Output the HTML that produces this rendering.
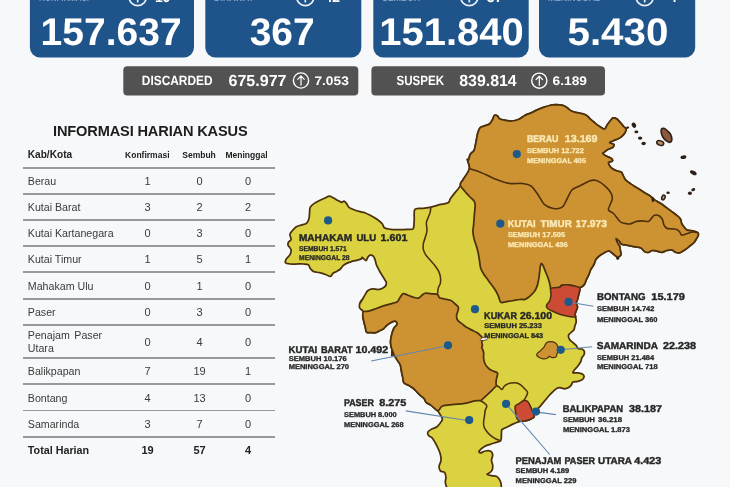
<!DOCTYPE html>
<html>
<head>
<meta charset="utf-8">
<title>Informasi Harian Kasus</title>
<style>
html,body{margin:0;padding:0;background:#f7f8fa;}
#wrap{position:absolute;left:0;top:0;width:730px;height:487px;}
body{width:730px;height:487px;overflow:hidden;background:#f7f8fa;font-family:"Liberation Sans",sans-serif;position:relative;}
#ttl{position:absolute;left:0;width:300.6px;top:122.2px;text-align:center;font-weight:bold;font-size:14.6px;letter-spacing:-0.15px;line-height:18px;color:#1d1d1d;white-space:nowrap;}
.hl{position:absolute;left:22.6px;width:252.4px;height:1.5px;background:#999;margin-top:-0.2px;}
.r{position:absolute;left:0;width:300px;height:14px;font-size:10.65px;line-height:14px;color:#3a3a3a;}
.r span{position:absolute;top:0;white-space:nowrap;}
.r .k{left:27.8px;}
.r .a,.r .b,.r .c{width:40px;text-align:center;font-size:11px;}
.r .a{left:127.5px;}
.r .b{left:179.5px;}
.r .c{left:228px;}
.r.h{font-weight:bold;color:#222;}
.r.h .k{font-size:10.1px;}
.r.h .a,.r.h .b,.r.h .c{font-size:8.5px;width:60px;}
.r.h .a{left:117.3px;}
.r.h .b{left:169px;}
.r.h .c{left:216.5px;}
.r.t{font-weight:bold;color:#222;font-size:10.75px;}
svg{position:absolute;left:0;top:0;width:730px;height:487px;font-family:"Liberation Sans",sans-serif;font-weight:bold;text-rendering:geometricPrecision;}
</style>
</head>
<body>
<div id="wrap">
<svg id="top" viewBox="0 0 730 487">
<rect x="29.9" y="-20" width="164.1" height="77.5" rx="10" fill="#1f548b"/>
<rect x="205.3" y="-20" width="156.0" height="77.5" rx="10" fill="#1f548b"/>
<rect x="373.3" y="-20" width="155.4" height="77.5" rx="10" fill="#1f548b"/>
<rect x="539.0" y="-20" width="156.2" height="77.5" rx="10" fill="#1f548b"/>
<text x="40.6" y="45.3" textLength="141" lengthAdjust="spacingAndGlyphs" font-size="38.5" fill="#fff" >157.637</text>
<text x="249.7" y="45.4" textLength="65" lengthAdjust="spacingAndGlyphs" font-size="38.5" fill="#fff" >367</text>
<text x="379.3" y="45.4" textLength="144.4" lengthAdjust="spacingAndGlyphs" font-size="38.5" fill="#fff" >151.840</text>
<text x="567.5" y="45.4" textLength="100.9" lengthAdjust="spacingAndGlyphs" font-size="38.5" fill="#fff" >5.430</text>
<circle cx="137.7" cy="-3" r="8.6" fill="none" stroke="#e9eff7" stroke-width="1.7"/>
<line x1="137.7" y1="-6" x2="137.7" y2="2.4" stroke="#e9eff7" stroke-width="1.7"/>
<text x="155" y="1.7" textLength="15.4" lengthAdjust="spacingAndGlyphs" font-size="15" fill="#fff" >19</text>
<circle cx="305.3" cy="-3" r="8.6" fill="none" stroke="#e9eff7" stroke-width="1.7"/>
<line x1="305.3" y1="-6" x2="305.3" y2="2.4" stroke="#e9eff7" stroke-width="1.7"/>
<text x="324.6" y="1.7" textLength="15.4" lengthAdjust="spacingAndGlyphs" font-size="15" fill="#fff" >42</text>
<circle cx="469.3" cy="-3" r="8.6" fill="none" stroke="#e9eff7" stroke-width="1.7"/>
<line x1="469.3" y1="-6" x2="469.3" y2="2.4" stroke="#e9eff7" stroke-width="1.7"/>
<text x="486.7" y="1.7" textLength="16" lengthAdjust="spacingAndGlyphs" font-size="15" fill="#fff" >57</text>
<circle cx="644.7" cy="-3" r="8.6" fill="none" stroke="#e9eff7" stroke-width="1.7"/>
<line x1="644.7" y1="-6" x2="644.7" y2="2.4" stroke="#e9eff7" stroke-width="1.7"/>
<text x="669.3" y="1.7" textLength="7.5" lengthAdjust="spacingAndGlyphs" font-size="15" fill="#fff" >4</text>
<text x="39" y="0.7" textLength="50" lengthAdjust="spacingAndGlyphs" font-size="12" fill="#7f9fc4" >KONFIRMASI</text>
<text x="214" y="0.7" textLength="40" lengthAdjust="spacingAndGlyphs" font-size="12" fill="#7f9fc4" >DIRAWAT</text>
<text x="382" y="0.7" textLength="38" lengthAdjust="spacingAndGlyphs" font-size="12" fill="#7f9fc4" >SEMBUH</text>
<text x="548" y="0.7" textLength="52" lengthAdjust="spacingAndGlyphs" font-size="12" fill="#7f9fc4" >MENINGGAL</text>
<rect x="123.3" y="66.3" width="235" height="29.1" rx="4" fill="#525252"/>
<rect x="371.4" y="66.3" width="233.6" height="29.1" rx="4" fill="#525252"/>
<text x="141.8" y="85" textLength="70.8" lengthAdjust="spacingAndGlyphs" font-size="13.4" fill="#fff" >DISCARDED</text>
<text x="228.5" y="85.6" textLength="58" lengthAdjust="spacingAndGlyphs" font-size="16" fill="#fff" >675.977</text>
<text x="314.4" y="85" textLength="34.4" lengthAdjust="spacingAndGlyphs" font-size="12.4" fill="#fff" >7.053</text>
<text x="396.5" y="85" textLength="47.6" lengthAdjust="spacingAndGlyphs" font-size="13.4" fill="#fff" >SUSPEK</text>
<text x="459.2" y="85.6" textLength="57.5" lengthAdjust="spacingAndGlyphs" font-size="16" fill="#fff" >839.814</text>
<text x="552.6" y="85" textLength="34.4" lengthAdjust="spacingAndGlyphs" font-size="12.4" fill="#fff" >6.189</text>
<circle cx="301" cy="80.5" r="7.6" fill="none" stroke="#fff" stroke-width="1.4"/>
<path d="M301,85.1 V76.1 M297.8,79.3 L301,75.9 L304.2,79.3" fill="none" stroke="#fff" stroke-width="1.2" stroke-linecap="round" stroke-linejoin="round"/>
<circle cx="539.3" cy="80.7" r="7.6" fill="none" stroke="#fff" stroke-width="1.4"/>
<path d="M539.3,85.3 V76.3 M536.0999999999999,79.5 L539.3,76.10000000000001 L542.5,79.5" fill="none" stroke="#fff" stroke-width="1.2" stroke-linecap="round" stroke-linejoin="round"/>
</svg>

<div id="ttl">INFORMASI HARIAN KASUS</div>
<div class="r h" style="top:147.6px;"><span class="k">Kab/Kota</span><span class="a">Konfirmasi</span><span class="b">Sembuh</span><span class="c">Meninggal</span></div>
<div class="hl" style="top:167.2px;"></div>
<div class="r" style="top:174px;"><span class="k">Berau</span><span class="a">1</span><span class="b">0</span><span class="c">0</span></div>
<div class="hl" style="top:193.4px;"></div>
<div class="r" style="top:200px;"><span class="k">Kutai Barat</span><span class="a">3</span><span class="b">2</span><span class="c">2</span></div>
<div class="hl" style="top:219.4px;"></div>
<div class="r" style="top:226px;"><span class="k">Kutai Kartanegara</span><span class="a">0</span><span class="b">3</span><span class="c">0</span></div>
<div class="hl" style="top:245.6px;"></div>
<div class="r" style="top:252px;"><span class="k">Kutai Timur</span><span class="a">1</span><span class="b">5</span><span class="c">1</span></div>
<div class="hl" style="top:271.5px;"></div>
<div class="r" style="top:279px;"><span class="k">Mahakam Ulu</span><span class="a">0</span><span class="b">1</span><span class="c">0</span></div>
<div class="hl" style="top:298.3px;"></div>
<div class="r" style="top:305px;"><span class="k">Paser</span><span class="a">0</span><span class="b">3</span><span class="c">0</span></div>
<div class="hl" style="top:324.5px;"></div>
<div class="r" style="top:335px;"><span class="k" style="top:-7px;word-spacing:1.6px;">Penajam Paser</span><span class="k" style="top:6px;">Utara</span><span class="a">0</span><span class="b">4</span><span class="c">0</span></div>
<div class="hl" style="top:357.2px;"></div>
<div class="r" style="top:364px;"><span class="k">Balikpapan</span><span class="a">7</span><span class="b">19</span><span class="c">1</span></div>
<div class="hl" style="top:383.2px;"></div>
<div class="r" style="top:390.5px;"><span class="k">Bontang</span><span class="a">4</span><span class="b">13</span><span class="c">0</span></div>
<div class="hl" style="top:409.8px;"></div>
<div class="r" style="top:417px;"><span class="k">Samarinda</span><span class="a">3</span><span class="b">7</span><span class="c">0</span></div>
<div class="hl" style="top:436.4px;"></div>
<div class="r t" style="top:443px;"><span class="k">Total Harian</span><span class="a">19</span><span class="b">57</span><span class="c">4</span></div>

<svg id="map" viewBox="0 0 730 487">
<path d="M286.2,259.1C286.9,257.8 289.1,256.3 289.9,254.8C290.7,253.3 291.4,251.6 291.1,249.9C290.8,248.2 288.4,246.2 288,244.9C287.6,243.6 288.1,242.9 288.6,242C289.1,241.1 290.9,240.6 291.1,239.3C291.3,238.0 289.7,235.8 289.9,234.4C290.1,233.0 291.3,231.9 292.3,230.7C293.3,229.5 294.6,227.9 296,227C297.4,226.1 299.2,225.7 301,225.1C302.8,224.5 305.2,224.4 306.5,223.3C307.8,222.2 308.5,220.2 309,218.4C309.5,216.6 309.4,214.0 309.6,212.2C309.8,210.3 309.5,208.7 310.2,207.3C310.9,205.9 312.3,204.7 313.9,203.6C315.4,202.5 317.6,201.4 319.5,200.5C321.4,199.6 323.4,198.7 325,198C326.6,197.3 327.9,196.2 329.3,196.2C330.7,196.2 332.2,197.3 333.6,198C335.0,198.7 336.6,199.8 337.9,200.5C339.2,201.2 340.6,202.2 341.6,202.3C342.6,202.4 343.3,200.9 344.1,201.1C344.9,201.3 345.8,202.6 346.6,203.6C347.4,204.6 347.8,206.3 349,207.3C350.2,208.3 352.1,209.0 354,209.7C355.9,210.4 358.3,211.1 360.1,211.6C361.9,212.1 363.1,212.0 364.9,212.7C366.7,213.4 369.0,214.7 371.1,215.8C373.2,216.9 375.5,218.2 377.3,219.5C379.1,220.8 381.0,222.4 382.2,223.8C383.4,225.2 383.3,227.2 384.7,228.1C386.1,229.0 388.3,229.1 390.8,229.3C393.3,229.6 396.7,229.6 399.5,229.6C402.3,229.6 405.1,229.5 407.4,229.3C409.7,229.2 412.1,230.2 413.2,228.7C414.3,227.1 413.9,223.2 414.2,220C414.5,216.8 413.5,211.5 414.8,209.6C416.1,207.7 419.5,208.8 422.2,208.4C424.9,208.0 427.9,207.7 430.8,207.1C433.7,206.5 436.6,205.4 439.5,204.7C442.4,204.0 446.3,203.8 448.1,202.8C449.9,201.8 449.5,200.0 450.5,198.5C451.5,197.0 453.0,195.2 454.2,193.6C455.4,192.0 456.9,190.5 457.9,189.2C458.9,187.8 459.9,186.6 460.4,185.5C460.9,184.4 460.6,183.4 461,182.5C461.4,181.6 461.5,182.3 462.9,180C464.3,177.7 468.6,172.0 469.4,168.6C470.1,165.2 467.5,161.2 467.4,159.8C467.2,158.4 468.0,160.9 468.5,160C469.0,159.1 469.4,155.8 470.3,154.2C471.2,152.6 473.2,151.9 474,150.5C474.8,149.1 474.9,147.4 475.3,145.6C475.7,143.8 476.1,141.6 476.5,139.5C476.9,137.4 477.1,135.3 477.7,133.3C478.3,131.3 479.1,128.9 480.2,127.7C481.3,126.5 482.9,126.5 484.5,125.9C486.1,125.3 488.2,125.0 489.5,124C490.8,123.0 491.7,121.1 492.5,119.7C493.3,118.3 493.6,116.0 494.4,115.4C495.2,114.8 496.6,115.4 497.5,116C498.4,116.6 498.6,118.4 499.9,119.1C501.2,119.8 503.6,120.0 505.5,120.3C507.4,120.6 509.4,121.2 511.6,121C513.9,120.8 516.8,120.1 519,119.2C521.2,118.3 522.9,116.5 524.9,115.4C526.9,114.4 529.0,113.8 531.1,112.9C533.2,112.0 535.2,110.8 537.3,109.9C539.3,109.0 541.3,108.1 543.4,107.4C545.5,106.7 547.5,106.0 549.6,105.5C551.7,105.0 553.8,104.8 555.8,104.7C557.8,104.7 560.1,104.8 561.9,105.2C563.7,105.7 565.4,106.5 566.8,107.4C568.2,108.3 569.0,109.7 570.5,110.5C572.0,111.3 573.6,111.8 575.5,112.3C577.4,112.8 579.8,113.1 581.6,113.6C583.5,114.1 585.2,114.5 586.6,115.4C588.0,116.3 588.9,117.9 590.3,119.1C591.6,120.3 593.2,121.6 594.7,122.8C596.2,124.0 598.0,125.5 599.6,126.5C601.2,127.5 603.3,129.2 604.5,129C605.7,128.8 606.1,126.6 607,125.3C607.9,124.0 609.1,122.2 610.1,121C611.1,119.8 612.1,118.2 613.2,117.9C614.3,117.6 615.7,118.3 616.9,119.1C618.1,119.9 619.4,121.6 620.5,122.8C621.6,124.0 622.7,125.5 623.6,126.5C624.5,127.5 625.9,128.0 626.1,129C626.3,130.0 625.6,131.5 624.9,132.7C624.2,133.9 622.9,135.4 621.8,136.4C620.7,137.4 619.5,138.1 618.1,138.8C616.7,139.5 614.6,140.1 613.2,140.7C611.8,141.3 609.4,141.9 609.5,142.5C609.6,143.1 613.3,143.6 613.8,144.4C614.3,145.2 613.4,146.7 612.5,147.5C611.6,148.3 609.6,148.5 608.2,149.3C606.8,150.1 604.8,151.7 603.9,152.4C603.0,153.1 602.4,153.1 602.9,153.7C603.4,154.3 605.1,155.4 606.6,156.2C608.1,157.0 610.7,157.8 611.6,158.6C612.5,159.4 612.7,160.5 612.2,161.1C611.7,161.7 608.9,161.5 608.5,162.3C608.1,163.1 609.0,164.9 609.7,166C610.4,167.1 611.6,168.3 612.8,169.1C614.0,169.9 615.7,170.5 617.1,171C618.5,171.5 620.4,171.4 621.4,172.2C622.4,173.0 622.6,174.6 623.3,175.9C624.0,177.2 624.6,178.9 625.8,180.2C627.0,181.5 629.1,182.8 630.7,183.9C632.3,185.0 634.0,186.0 635.6,187C637.2,188.0 638.9,189.1 640.5,190.1C642.1,191.1 643.9,192.2 645.5,193.2C647.1,194.2 648.9,195.1 650.4,196.2C651.9,197.3 652.8,198.7 654.5,199.9C656.2,201.1 658.7,202.3 660.7,203.6C662.8,204.9 664.9,206.6 666.8,207.9C668.6,209.2 670.1,210.4 671.8,211.6C673.4,212.8 675.3,214.1 676.7,215.3C678.1,216.5 679.6,217.7 680.4,219C681.2,220.3 681.0,222.1 681.6,223.4C682.2,224.8 683.2,226.0 684.1,227.1C685.0,228.2 685.8,229.5 687.2,230.1C688.6,230.7 691.0,230.4 692.7,230.8C694.5,231.2 696.8,231.9 697.7,232.6C698.6,233.3 698.5,234.1 698.3,235.1C698.1,236.1 697.1,237.6 696.4,238.8C695.7,240.0 695.0,241.4 694,242.5C693.0,243.6 691.5,244.5 690.3,245.5C689.1,246.5 687.8,247.7 686.6,248.6C685.4,249.5 684.1,250.4 682.9,251.1C681.7,251.8 680.4,252.7 679.2,252.9C678.0,253.1 676.7,252.8 675.5,252.3C674.3,251.8 673.2,250.2 671.8,249.9C670.3,249.6 668.4,250.1 666.8,250.5C665.1,250.9 663.5,252.2 661.9,252.3C660.3,252.4 658.6,251.4 657,251.1C655.4,250.8 653.5,250.3 652.1,250.5C650.7,250.7 649.6,252.1 648.4,252.3C647.2,252.5 645.9,252.4 644.7,251.7C643.5,251.0 642.8,248.8 641,248C639.2,247.2 636.2,247.0 634,246.6C631.8,246.2 629.9,245.7 627.8,245.3C625.7,244.9 623.0,244.8 621.6,244.1C620.2,243.4 620.1,241.9 619.2,241C618.3,240.1 616.4,238.4 616.1,238.6C615.8,238.8 616.7,241.0 617.3,242.3C617.9,243.6 619.3,245.2 619.8,246.6C620.3,248.0 620.2,249.6 620.4,250.9C620.6,252.2 621.4,253.6 621,254.6C620.6,255.6 618.8,256.9 617.9,257.1C617.0,257.3 616.5,256.5 615.5,255.8C614.5,255.1 612.9,253.5 611.8,252.7C610.7,251.9 609.9,250.9 608.7,250.9C607.5,250.9 605.9,251.9 604.4,252.7C602.9,253.5 600.9,254.7 599.5,255.8C598.1,256.9 596.7,258.1 595.8,259.5C594.9,260.9 594.7,262.9 593.9,264.5C593.1,266.1 591.6,267.8 590.8,269.4C590.0,271.0 589.7,272.7 589,274.3C588.3,275.9 587.2,277.6 586.5,279.2C585.8,280.8 585.4,282.7 584.6,284C583.8,285.3 582.7,286.2 581.8,286.8C580.9,287.4 579.6,287.0 579.3,287.5C579.0,288.0 580.0,288.5 579.9,289.7C579.8,290.9 579.1,293.0 578.7,294.7C578.3,296.4 577.9,298.2 577.5,299.6C577.1,301.0 576.2,302.1 576.2,303.3C576.2,304.5 577.5,305.8 577.5,307.0C577.5,308.2 576.6,309.5 576.2,310.7C575.8,311.9 575.1,313.4 575.0,314.4C574.9,315.4 575.4,315.6 575.6,316.8C575.8,318.0 576.3,320.4 576.2,321.8C576.1,323.2 575.4,324.1 575.0,325.5C574.6,326.9 574.8,328.4 573.8,330.0C572.8,331.6 569.5,333.3 568.7,334.8C568.0,336.3 568.7,337.9 569.3,339.1C569.9,340.3 571.3,341.2 572.4,342.2C573.5,343.2 575.2,344.3 576.1,345.3C577.0,346.3 577.0,347.8 577.9,348.4C578.8,349.0 580.6,348.6 581.6,349.0C582.6,349.4 583.7,349.9 584.1,350.8C584.5,351.7 584.5,353.3 584.1,354.5C583.7,355.7 582.1,357.1 581.6,358.2C581.1,359.3 581.6,359.8 581,361.1C580.4,362.4 579.0,364.5 577.9,366C576.8,367.5 575.0,369.2 574.2,370.3C573.4,371.4 572.4,372.4 573,372.8C573.6,373.2 576.4,372.6 577.9,372.8C579.4,373.0 581.3,373.4 582.3,374C583.3,374.6 584.1,375.6 584.1,376.5C584.1,377.4 583.3,378.8 582.3,379.6C581.3,380.4 579.4,381.0 577.9,381.4C576.4,381.8 574.1,381.5 573,382.1C571.9,382.7 571.9,384.2 571.2,385.1C570.5,386.0 569.8,387.0 568.7,387.6C567.6,388.2 565.8,388.8 564.4,388.8C563.0,388.8 561.3,387.7 560.1,387.6C558.9,387.5 558.1,387.6 557,388.2C555.9,388.8 554.5,390.2 553.3,391.3C552.1,392.4 550.7,393.8 549.6,395C548.5,396.2 547.5,397.5 546.5,398.7C545.5,399.9 544.4,401.2 543.4,402.4C542.4,403.6 541.4,404.8 540.3,406.1C539.1,407.4 537.6,408.7 536.5,410C535.4,411.3 534.0,412.7 533.6,413.8C533.2,414.9 534.7,415.9 534.2,416.8C533.7,417.7 531.9,418.6 530.5,419.3C529.1,420.0 527.2,420.5 525.6,420.8C524.0,421.1 522.8,420.6 520.7,421.2C518.6,421.8 515.1,423.2 512.9,424.1C510.7,425.0 509.3,425.9 507.5,426.8C505.7,427.7 503.1,428.8 502.1,429.5C501.1,430.2 501.7,430.2 501.6,431C501.5,431.8 501.5,432.8 501.4,434.4C501.3,436.0 501.6,439.3 500.8,440.6C500.0,441.9 498.1,441.8 496.4,442.4C494.6,443.0 492.4,443.6 490.3,444.3C488.2,445.0 486.0,445.6 484.1,446.7C482.2,447.8 479.8,450.0 479.2,451C478.6,452.0 479.4,452.9 480.4,452.9C481.4,452.9 483.6,451.3 485.3,451C487.0,450.7 489.1,450.4 490.3,451C491.5,451.6 492.5,453.1 492.7,454.7C492.9,456.2 491.5,458.6 491.5,460.3C491.5,462.1 492.6,463.6 492.7,465.2C492.8,466.8 492.7,468.9 492.1,470.2C491.5,471.5 489.8,472.5 489,473.2C488.2,473.9 486.8,474.1 487.2,474.5C487.6,474.9 490.0,475.4 491.5,475.7C493.0,476.0 495.2,475.8 496.4,476.3C497.6,476.8 498.2,477.8 498.9,478.8C499.6,479.8 500.4,481.1 500.8,482.5C501.2,483.9 501.3,484.9 501.4,487C501.5,489.1 510.7,493.7 501.6,495C492.5,496.3 456.0,496.3 446.8,495C437.6,493.7 446.8,489.1 446.5,487C446.2,484.9 445.4,484.1 445.3,482.5C445.2,480.9 446.0,479.1 445.9,477.5C445.8,475.9 445.6,473.7 444.7,472.6C443.8,471.5 441.2,471.8 440.3,470.8C439.4,469.8 439.0,468.2 439.1,466.5C439.2,464.8 440.8,462.4 441,460.3C441.2,458.2 440.8,456.2 440.3,454.1C439.8,452.1 438.7,449.9 437.9,448C437.1,446.1 436.3,444.6 435.4,443C434.5,441.4 433.4,439.3 432.3,438.1C431.2,436.9 429.3,436.6 428.6,435.6C427.9,434.6 427.4,433.0 428,431.9C428.6,430.8 430.8,429.6 432.3,428.8C433.8,428.0 435.5,428.0 437.0,426.8C438.5,425.6 440.5,422.8 441.4,421.4C442.3,420.0 442.6,419.8 442.3,418.5C442.0,417.2 440.3,414.8 439.5,413.5C438.7,412.2 438.4,411.5 437.5,410.6C436.6,409.7 435.3,408.8 434.1,407.9C432.9,406.9 431.7,405.8 430.4,404.9C429.1,404.0 427.1,403.4 426.1,402.4C425.1,401.4 425.1,399.8 424.2,398.7C423.3,397.6 421.7,396.7 420.5,395.6C419.3,394.5 418.0,393.1 416.8,391.9C415.6,390.7 414.6,389.3 413.2,388.2C411.8,387.1 409.8,386.0 408.2,385.1C406.6,384.2 404.8,384.0 403.9,382.7C403.0,381.4 403.1,379.1 402.7,377.1C402.3,375.2 401.8,373.1 401.4,371.0C401.0,368.9 400.9,366.7 400.2,364.8C399.5,362.9 398.1,361.5 397.1,359.9C396.1,358.2 394.8,356.5 394.0,354.9C393.2,353.2 392.6,349.9 392.2,350.0C391.8,350.1 391.8,355.2 391.8,355.5C391.8,355.8 392.5,353.2 392.4,351.8C392.3,350.4 391.5,348.5 391.2,346.8C390.9,345.1 390.5,343.5 390.5,341.9C390.5,340.3 390.9,338.6 391.2,337.0C391.5,335.4 391.9,333.7 392.4,332.1C392.9,330.6 393.4,328.9 394.2,327.7C395.0,326.5 396.6,325.6 397.0,324.7C397.4,323.8 397.2,322.8 396.7,322.2C396.2,321.6 395.4,321.0 394.2,321.2C393.0,321.4 390.6,322.6 389.3,323.4C388.0,324.2 387.2,325.0 386.2,325.9C385.2,326.8 384.3,328.2 383.2,329.0C382.1,329.8 380.7,330.2 379.5,330.8C378.3,331.4 377.2,332.4 375.8,332.7C374.4,333.0 372.4,332.8 370.8,332.7C369.2,332.6 367.4,333.0 366.5,332.1C365.6,331.2 365.7,328.8 365.3,327.1C364.9,325.5 364.4,324.1 364.0,322.2C363.6,320.3 362.9,317.8 362.8,316.0C362.7,314.2 363.9,313.0 363.4,311.7C362.9,310.4 360.3,309.3 359.7,308.0C359.1,306.7 359.4,305.0 359.7,303.7C360.0,302.4 361.5,300.1 361.6,300.0C361.7,299.9 360.1,303.2 360.3,303C360.5,302.8 362.0,300.1 362.8,298.7C363.6,297.3 364.5,295.7 365.3,294.4C366.1,293.1 366.6,291.6 367.7,290.7C368.8,289.8 370.4,289.0 372.1,288.8C373.9,288.6 376.5,289.6 378.2,289.5C379.9,289.4 381.3,288.8 382.5,288.2C383.7,287.6 385.0,286.8 385.6,285.8C386.2,284.8 386.6,283.6 386.2,282.1C385.8,280.7 384.3,279.0 383.2,277.1C382.1,275.2 380.6,273.1 379.5,271C378.4,268.9 377.1,266.7 376.4,264.8C375.7,262.9 375.6,261.3 375.1,259.9C374.6,258.5 374.1,257.0 373.3,256.2C372.5,255.4 371.1,255.0 370.2,255.2C369.3,255.4 368.4,256.5 367.7,257.4C367.0,258.3 366.8,260.5 365.9,260.5C365.0,260.5 362.9,257.7 362.2,257.4C361.4,257.1 362.4,258.4 361.4,258.9C360.4,259.4 358.0,259.9 356.4,260.3C354.8,260.8 353.1,261.1 351.5,261.6C349.9,262.1 348.0,262.7 346.6,263.4C345.2,264.1 343.9,265.0 342.9,265.9C341.9,266.8 341.4,268.1 340.4,269C339.4,269.9 337.9,270.7 336.7,271.4C335.5,272.1 334.0,272.5 333,273.3C332.0,274.1 331.7,276.2 330.5,276.4C329.3,276.6 327.4,275.1 325.6,274.5C323.8,273.9 321.6,273.2 319.5,272.7C317.4,272.2 314.9,272.1 313.3,271.4C311.8,270.7 311.0,269.5 310.2,268.4C309.4,267.3 309.5,265.4 308.4,264.7C307.3,264.0 305.5,264.1 303.4,264C301.3,263.9 298.2,264.0 296,264C293.8,264.0 291.6,264.2 289.9,264C288.1,263.8 286.1,263.6 285.5,262.8C284.9,262.0 285.5,260.4 286.2,259.1Z" fill="#dad240" stroke="#4c300c" stroke-width="1.75" stroke-linejoin="round"/>
<path d="M460.4,185.5C459.9,184.2 460.6,183.4 461,182.5C461.4,181.6 461.5,182.3 462.9,180C464.3,177.7 468.6,172.0 469.4,168.6C470.1,165.2 467.5,161.2 467.4,159.8C467.2,158.4 468.0,160.9 468.5,160C469.0,159.1 469.4,155.8 470.3,154.2C471.2,152.6 473.2,151.9 474,150.5C474.8,149.1 474.9,147.4 475.3,145.6C475.7,143.8 476.1,141.6 476.5,139.5C476.9,137.4 477.1,135.3 477.7,133.3C478.3,131.3 479.1,128.9 480.2,127.7C481.3,126.5 482.9,126.5 484.5,125.9C486.1,125.3 488.2,125.0 489.5,124C490.8,123.0 491.7,121.1 492.5,119.7C493.3,118.3 493.6,116.0 494.4,115.4C495.2,114.8 496.6,115.4 497.5,116C498.4,116.6 498.6,118.4 499.9,119.1C501.2,119.8 503.6,120.0 505.5,120.3C507.4,120.6 509.4,121.2 511.6,121C513.9,120.8 516.8,120.1 519,119.2C521.2,118.3 522.9,116.5 524.9,115.4C526.9,114.4 529.0,113.8 531.1,112.9C533.2,112.0 535.2,110.8 537.3,109.9C539.3,109.0 541.3,108.1 543.4,107.4C545.5,106.7 547.5,106.0 549.6,105.5C551.7,105.0 553.8,104.8 555.8,104.7C557.8,104.7 560.1,104.8 561.9,105.2C563.7,105.7 565.4,106.5 566.8,107.4C568.2,108.3 569.0,109.7 570.5,110.5C572.0,111.3 573.6,111.8 575.5,112.3C577.4,112.8 579.8,113.1 581.6,113.6C583.5,114.1 585.2,114.5 586.6,115.4C588.0,116.3 588.9,117.9 590.3,119.1C591.6,120.3 593.2,121.6 594.7,122.8C596.2,124.0 598.0,125.5 599.6,126.5C601.2,127.5 603.3,129.2 604.5,129C605.7,128.8 606.1,126.6 607,125.3C607.9,124.0 609.1,122.2 610.1,121C611.1,119.8 612.1,118.2 613.2,117.9C614.3,117.6 615.7,118.3 616.9,119.1C618.1,119.9 619.4,121.6 620.5,122.8C621.6,124.0 622.7,125.5 623.6,126.5C624.5,127.5 625.9,128.0 626.1,129C626.3,130.0 625.6,131.5 624.9,132.7C624.2,133.9 622.9,135.4 621.8,136.4C620.7,137.4 619.5,138.1 618.1,138.8C616.7,139.5 614.6,140.1 613.2,140.7C611.8,141.3 609.4,141.9 609.5,142.5C609.6,143.1 613.3,143.6 613.8,144.4C614.3,145.2 613.4,146.7 612.5,147.5C611.6,148.3 609.6,148.5 608.2,149.3C606.8,150.1 604.8,151.7 603.9,152.4C603.0,153.1 602.4,153.1 602.9,153.7C603.4,154.3 605.1,155.4 606.6,156.2C608.1,157.0 610.7,157.8 611.6,158.6C612.5,159.4 612.7,160.5 612.2,161.1C611.7,161.7 608.9,161.5 608.5,162.3C608.1,163.1 609.0,164.9 609.7,166C610.4,167.1 611.6,168.3 612.8,169.1C614.0,169.9 615.7,170.5 617.1,171C618.5,171.5 620.4,171.4 621.4,172.2C622.4,173.0 622.6,174.6 623.3,175.9C624.0,177.2 624.6,178.9 625.8,180.2C627.0,181.5 629.1,182.8 630.7,183.9C632.3,185.0 634.0,186.0 635.6,187C637.2,188.0 638.9,189.1 640.5,190.1C642.1,191.1 643.9,192.2 645.5,193.2C647.1,194.2 648.9,195.1 650.4,196.2C651.9,197.3 652.8,198.7 654.5,199.9C656.2,201.1 658.7,202.3 660.7,203.6C662.8,204.9 664.9,206.6 666.8,207.9C668.6,209.2 670.1,210.4 671.8,211.6C673.4,212.8 675.3,214.1 676.7,215.3C678.1,216.5 679.6,217.7 680.4,219C681.2,220.3 681.0,222.1 681.6,223.4C682.2,224.8 683.2,226.0 684.1,227.1C685.0,228.2 685.8,229.5 687.2,230.1C688.6,230.7 691.0,230.4 692.7,230.8C694.5,231.2 696.8,231.9 697.7,232.6C698.6,233.3 698.5,234.1 698.3,235.1C698.1,236.1 697.1,237.6 696.4,238.8C695.7,240.0 695.0,241.4 694,242.5C693.0,243.6 691.5,244.5 690.3,245.5C689.1,246.5 687.8,247.7 686.6,248.6C685.4,249.5 684.1,250.4 682.9,251.1C681.7,251.8 680.4,252.7 679.2,252.9C678.0,253.1 676.7,252.8 675.5,252.3C674.3,251.8 673.2,250.2 671.8,249.9C670.3,249.6 668.4,250.1 666.8,250.5C665.1,250.9 663.5,252.2 661.9,252.3C660.3,252.4 658.6,251.4 657,251.1C655.4,250.8 653.5,250.3 652.1,250.5C650.7,250.7 649.6,252.1 648.4,252.3C647.2,252.5 645.9,252.4 644.7,251.7C643.5,251.0 642.8,248.8 641,248C639.2,247.2 636.2,247.0 634,246.6C631.8,246.2 629.9,245.7 627.8,245.3C625.7,244.9 623.0,244.8 621.6,244.1C620.2,243.4 620.1,241.9 619.2,241C618.3,240.1 616.4,238.4 616.1,238.6C615.8,238.8 616.7,241.0 617.3,242.3C617.9,243.6 619.3,245.2 619.8,246.6C620.3,248.0 620.2,249.6 620.4,250.9C620.6,252.2 621.4,253.6 621,254.6C620.6,255.6 618.8,256.9 617.9,257.1C617.0,257.3 616.5,256.5 615.5,255.8C614.5,255.1 612.9,253.5 611.8,252.7C610.7,251.9 609.9,250.9 608.7,250.9C607.5,250.9 605.9,251.9 604.4,252.7C602.9,253.5 600.9,254.7 599.5,255.8C598.1,256.9 596.7,258.1 595.8,259.5C594.9,260.9 594.7,262.9 593.9,264.5C593.1,266.1 591.6,267.8 590.8,269.4C590.0,271.0 589.7,272.7 589,274.3C588.3,275.9 587.2,277.6 586.5,279.2C585.8,280.8 585.4,282.7 584.6,284C583.8,285.3 582.7,286.2 581.8,286.8C580.9,287.4 580.7,287.7 579.3,287.5C577.9,287.3 575.2,286.2 573.2,285.8C571.2,285.4 569.0,284.9 567.0,284.8C565.0,284.7 562.6,285.0 561.4,285.4C560.2,285.8 561.3,286.8 559.6,287.3C557.9,287.8 552.5,288.4 551.0,288.5C549.5,288.6 550.9,289.2 550.6,288.1C550.3,287.0 549.9,283.9 549.3,281.9C548.7,279.8 548.0,277.9 547.2,275.8C546.4,273.8 545.4,271.4 544.7,269.6C544.0,267.9 543.5,266.3 542.9,265.3C542.3,264.3 541.8,263.3 541.4,263.4C541.0,263.5 540.7,264.7 540.4,265.9C540.1,267.1 540.0,268.8 539.8,270.8C539.5,272.9 539.3,275.7 538.9,278.2C538.5,280.7 538.1,283.3 537.3,285.6C536.5,287.9 535.5,290.0 534.2,291.8C532.9,293.6 530.8,295.4 529.3,296.7C527.8,297.9 526.5,298.8 525,299.3C523.5,299.8 521.9,299.3 520,299.5C518.1,299.7 516.1,300.1 513.8,300.5C511.5,300.9 508.5,301.4 506.4,301.7C504.2,302.0 502.2,303.2 500.9,302.3C499.6,301.4 499.3,298.2 498.4,296.2C497.5,294.1 496.7,292.2 495.3,290C493.9,287.8 491.3,284.5 490,282.7C488.7,280.9 488.5,280.6 487.5,279.2C486.5,277.8 484.9,276.1 483.8,274.3C482.7,272.5 481.4,270.4 480.7,268.2C480.0,265.9 479.9,263.3 479.5,260.8C479.1,258.3 478.8,255.9 478.3,253.4C477.8,250.9 477.1,248.5 476.4,246C475.7,243.5 474.6,241.1 474,238.6C473.4,236.1 473.0,233.1 472.9,231.2C472.8,229.2 473.2,228.8 473.4,226.9C473.6,225.0 473.8,222.0 474,219.5C474.2,217.0 474.4,214.6 474.6,212.1C474.8,209.6 475.3,206.5 475.2,204.7C475.1,202.8 475.0,202.4 474,201C473.0,199.6 470.6,197.8 469,196C467.4,194.2 465.5,192.2 464.1,190.5C462.7,188.8 460.9,186.8 460.4,185.5Z" fill="#cd9333" stroke="#4c300c" stroke-width="1.75" stroke-linejoin="round"/>
<path d="M469.4,168.6C470.7,169.0 474.6,170.1 477.4,171.1C480.2,172.1 482.8,173.4 486.1,174.8C489.4,176.2 493.4,178.4 497.3,179.8C501.2,181.2 505.6,182.9 509.8,183.5C514.0,184.1 518.8,183.1 522.3,183.5C525.8,183.9 528.5,184.3 531.0,186.0C533.5,187.7 534.9,190.4 537.2,193.5C539.5,196.6 542.0,202.2 544.7,204.7C547.4,207.2 550.5,208.1 553.4,208.5C556.3,208.9 559.9,208.9 562.2,207.2C564.5,205.5 565.6,201.4 567.2,198.5C568.9,195.6 570.0,191.9 572.1,189.8C574.2,187.7 576.6,187.5 579.6,186.0C582.6,184.5 587.5,181.8 590,180.8C592.5,179.8 593.2,180.0 594.9,180.2C596.5,180.4 598.2,181.2 599.9,182.1C601.5,183.0 603.4,184.6 604.8,185.8C606.2,187.0 607.4,188.1 608.5,189.5C609.6,190.9 611.0,192.8 611.6,194.4C612.2,196.0 612.4,197.7 612.2,199.3C612.0,200.9 610.9,202.4 610.3,204.2C609.7,206.0 608.0,208.4 608.5,210C609.0,211.6 611.6,211.6 613.5,213.5C615.4,215.4 618.1,219.8 620,221.5C621.9,223.2 623.2,223.0 624.9,223.4C626.5,223.8 628.0,224.3 629.9,224C631.8,223.7 634.0,222.0 636,221.5C638.0,221.0 640.1,220.9 642.2,220.9C644.3,220.9 646.9,221.9 648.4,221.5C649.9,221.1 650.4,219.4 651.4,218.4C652.4,217.4 653.1,215.7 654.5,215.3C655.9,214.9 658.2,215.3 659.5,216C660.8,216.7 661.8,218.3 662.5,219.7C663.2,221.1 663.1,223.2 663.8,224.6C664.5,226.0 665.5,227.6 666.8,228.3C668.1,229.0 670.1,228.7 671.8,228.9C673.4,229.1 675.4,229.0 676.7,229.5C678.0,230.0 679.0,231.1 679.8,232C680.6,232.9 680.5,234.8 681.6,235.1C682.7,235.4 684.8,234.3 686.6,233.8C688.5,233.3 690.9,232.2 692.7,232C694.6,231.8 696.9,232.5 697.7,232.6" fill="none" stroke="#4c300c" stroke-width="1.6" stroke-linejoin="round"/>
<path d="M363.4,311.7C364.3,310.9 366.5,311.5 368.4,311.1C370.2,310.7 372.4,309.9 374.5,309.2C376.6,308.5 378.6,307.5 380.7,306.8C382.8,306.1 384.8,305.5 386.8,304.9C388.9,304.3 391.2,303.6 393,303.1C394.8,302.6 396.1,302.7 397.3,301.8C398.5,300.9 399.0,298.9 400,297.5C401.0,296.1 401.9,294.0 403.1,293.6C404.3,293.2 405.9,294.4 407.4,295C408.9,295.6 410.4,296.4 412.3,296.9C414.2,297.4 416.9,298.4 418.5,298.1C420.1,297.8 421.0,295.8 422.2,295C423.4,294.2 424.2,293.4 425.9,293.2C427.5,293.0 430.2,293.6 432.1,293.8C434.1,294.0 436.4,293.7 437.6,294.4C438.8,295.1 438.3,297.0 439.5,297.8C440.7,298.6 442.9,298.6 444.8,299C446.7,299.4 449.4,299.7 451,300.5C452.6,301.3 453.5,302.5 454.7,303.6C455.9,304.7 457.9,306.0 458.4,307.3C458.9,308.6 458.0,310.2 457.7,311.6C457.4,313.0 456.5,314.5 456.5,315.9C456.5,317.3 456.8,318.9 457.7,320.2C458.6,321.5 460.6,322.7 462.1,323.9C463.7,325.1 465.4,326.6 467,327.6C468.6,328.6 470.3,329.3 471.9,330.1C473.5,330.9 475.4,331.6 476.8,332.5C478.2,333.4 479.5,334.6 480.5,335.6C481.5,336.6 482.8,337.7 483,338.7C483.2,339.7 481.9,340.7 481.8,341.8C481.7,342.9 482.4,344.6 482.4,345.5C482.4,346.4 481.6,346.3 481.8,347.4C482.0,348.5 483.3,350.4 483.6,352.3C483.9,354.2 483.3,356.4 483.6,358.5C483.9,360.6 484.6,362.9 485.5,364.7C486.4,366.4 487.8,367.9 489.2,369C490.6,370.1 492.7,370.7 494.1,371.4C495.5,372.1 497.2,372.2 497.6,373.3C498.0,374.4 496.9,376.4 496.6,378.2C496.3,379.9 496.0,382.6 496,383.8C496.0,385.0 496.9,384.7 496.4,385.6C495.9,386.5 494.3,387.9 492.9,389.3C491.5,390.7 489.5,392.6 487.9,394.2C486.2,395.8 484.2,397.5 483,398.6C481.8,399.7 481.9,400.2 480.5,400.6C479.1,401.0 477.5,400.4 474.9,400.9C472.3,401.4 468.6,402.8 464.9,403.4C461.2,404.0 456.2,404.2 452.5,404.6C448.8,405.0 444.7,405.2 442.5,406C440.3,406.8 440.3,408.7 439.5,409.5C438.7,410.3 438.4,410.9 437.5,410.6C436.6,410.3 435.3,408.8 434.1,407.9C432.9,406.9 431.7,405.8 430.4,404.9C429.1,404.0 427.1,403.4 426.1,402.4C425.1,401.4 425.1,399.8 424.2,398.7C423.3,397.6 421.7,396.7 420.5,395.6C419.3,394.5 418.0,393.1 416.8,391.9C415.6,390.7 414.6,389.3 413.2,388.2C411.8,387.1 409.8,386.0 408.2,385.1C406.6,384.2 404.8,384.0 403.9,382.7C403.0,381.4 403.1,379.1 402.7,377.1C402.3,375.2 401.8,373.1 401.4,371.0C401.0,368.9 400.9,366.7 400.2,364.8C399.5,362.9 398.1,361.5 397.1,359.9C396.1,358.2 394.8,356.5 394.0,354.9C393.2,353.2 392.6,349.9 392.2,350.0C391.8,350.1 391.8,355.2 391.8,355.5C391.8,355.8 392.5,353.2 392.4,351.8C392.3,350.4 391.5,348.5 391.2,346.8C390.9,345.1 390.5,343.5 390.5,341.9C390.5,340.3 390.9,338.6 391.2,337.0C391.5,335.4 391.9,333.7 392.4,332.1C392.9,330.6 393.4,328.9 394.2,327.7C395.0,326.5 396.6,325.6 397.0,324.7C397.4,323.8 397.2,322.8 396.7,322.2C396.2,321.6 395.4,321.0 394.2,321.2C393.0,321.4 390.6,322.6 389.3,323.4C388.0,324.2 387.2,325.0 386.2,325.9C385.2,326.8 384.3,328.2 383.2,329.0C382.1,329.8 380.7,330.2 379.5,330.8C378.3,331.4 377.2,332.4 375.8,332.7C374.4,333.0 372.4,332.8 370.8,332.7C369.2,332.6 367.4,333.0 366.5,332.1C365.6,331.2 365.7,328.8 365.3,327.1C364.9,325.5 364.4,324.1 364.0,322.2C363.6,320.3 362.9,317.8 362.8,316.0C362.7,314.2 362.5,312.5 363.4,311.7Z" fill="#cd9333" stroke="#4c300c" stroke-width="1.75" stroke-linejoin="round"/>
<path d="M430.8,207.1C430.7,207.9 430.6,210.4 430.2,212.1C429.8,213.8 429.0,215.4 428.4,217C427.8,218.6 426.8,220.6 426.5,221.9C426.2,223.2 426.4,223.4 426.5,225C426.6,226.6 427.1,229.1 426.9,231.2C426.7,233.2 425.9,235.2 425.3,237.3C424.7,239.4 423.7,241.4 423.4,243.5C423.1,245.6 423.0,247.8 423.4,249.7C423.8,251.6 424.8,253.5 425.9,255.2C427.0,256.9 428.8,258.5 430.2,260.1C431.6,261.8 433.1,263.3 434.5,265.1C435.9,266.9 437.5,268.8 438.5,270.8C439.5,272.8 440.1,274.9 440.4,277C440.7,279.1 440.7,281.4 440.3,283.3C439.9,285.2 438.6,286.4 438.2,288.2C437.8,289.9 437.7,292.9 437.6,293.8" fill="none" stroke="#4c300c" stroke-width="1.55" stroke-linejoin="round"/>
<path d="M496.4,385.6C496.9,385.9 498.6,386.8 499.5,387.4C500.4,388.0 501.2,389.7 502,389.5C502.8,389.3 503.5,386.9 504.4,386C505.2,385.1 505.9,384.7 507.1,384.2C508.3,383.7 509.9,383.2 511.4,383C512.8,382.8 514.2,382.5 515.8,382.8C517.3,383.1 519.3,383.9 520.7,384.8C522.1,385.8 523.3,387.3 524.4,388.5C525.5,389.7 527.2,390.9 527.5,392.2C527.8,393.5 526.8,395.1 526.2,396.5C525.6,397.9 524.2,399.8 523.8,400.4" fill="none" stroke="#4c300c" stroke-width="1.55" stroke-linejoin="round"/>
<path d="M480.5,400.6C481.0,401.0 482.6,401.8 483.7,402.7C484.8,403.6 486.6,404.5 486.8,405.8C487.1,407.1 485.6,408.8 485.2,410.5C484.8,412.2 484.8,414.2 484.5,416.1C484.2,418.0 483.7,420.2 483.6,422C483.5,423.8 483.5,425.4 484.1,427C484.7,428.6 486.0,430.4 487.2,431.9C488.4,433.4 490.0,435.0 491.5,436.2C493.0,437.4 494.9,438.6 496.4,439.3C497.9,440.0 499.9,440.4 500.6,440.6" fill="none" stroke="#4c300c" stroke-width="1.55" stroke-linejoin="round"/>
<path d="M536.6,354.5C536.8,353.4 539.1,352.0 540.3,350.8C541.5,349.6 543.0,348.4 544,347.1C545.0,345.8 545.4,343.7 546.5,342.8C547.6,341.9 549.4,341.6 550.8,341.6C552.2,341.6 554.0,342.1 555.1,342.8C556.2,343.5 557.1,344.7 557.6,345.9C558.1,347.1 558.3,348.9 558.2,350.2C558.1,351.5 557.4,352.8 557,353.9C556.6,355.0 556.6,356.4 555.8,357C555.0,357.6 553.1,357.7 552.1,357.6C551.1,357.5 550.4,356.3 549.6,356.4C548.8,356.5 548.1,357.8 547.1,358.2C546.1,358.6 544.7,358.9 543.4,358.8C542.1,358.7 540.2,358.3 539.1,357.6C538.0,356.9 536.4,355.6 536.6,354.5Z" fill="#cd9333" stroke="#4c300c" stroke-width="1.2" stroke-linejoin="round"/>
<path d="M551.0,288.5C552.4,287.3 557.9,287.8 559.6,287.3C561.3,286.8 560.2,285.8 561.4,285.4C562.6,285.0 565.0,284.7 567.0,284.8C569.0,284.9 571.2,285.4 573.2,285.8C575.2,286.2 578.2,286.9 579.3,287.5C580.4,288.1 580.0,288.5 579.9,289.7C579.8,290.9 579.1,293.0 578.7,294.7C578.3,296.4 577.9,298.2 577.5,299.6C577.1,301.0 576.2,302.1 576.2,303.3C576.2,304.5 577.5,305.8 577.5,307.0C577.5,308.2 576.6,309.5 576.2,310.7C575.8,311.9 575.1,313.4 575.0,314.4C574.9,315.4 576.3,316.4 575.6,316.8C574.9,317.2 572.6,317.0 570.7,316.8C568.9,316.6 566.5,316.1 564.5,315.6C562.5,315.1 560.4,314.5 558.4,313.8C556.4,313.1 554.6,312.2 552.8,311.3C550.9,310.4 548.3,309.2 547.3,308.2C546.3,307.2 546.2,306.3 546.6,305.1C547.0,303.9 549.0,302.5 549.7,300.8C550.4,299.1 550.8,296.8 551.0,294.7C551.2,292.6 549.6,289.7 551.0,288.5Z" fill="#cd4a34" stroke="#4c300c" stroke-width="1.55" stroke-linejoin="round"/>
<path d="M515.1,406.4C515.7,404.8 518.0,404.3 519.5,403.3C521.0,402.3 522.5,400.9 523.8,400.6C525.1,400.3 526.5,400.6 527.5,401.4C528.5,402.1 529.2,403.8 529.9,405.1C530.6,406.5 531.2,408.1 531.8,409.5C532.4,410.9 533.2,412.6 533.6,413.8C534.0,415.0 534.7,415.9 534.2,416.8C533.7,417.7 531.9,418.6 530.5,419.3C529.1,420.0 527.2,420.5 525.6,420.8C524.0,421.1 522.1,421.6 520.7,421.2C519.3,420.8 517.8,420.0 517.0,418.7C516.2,417.4 516.1,415.2 515.8,413.2C515.5,411.1 514.5,408.0 515.1,406.4Z" fill="#cd4a34" stroke="#4c300c" stroke-width="1.55" stroke-linejoin="round"/>
<path d="M479.9,339.9C479.9,339.4 481.7,338.0 483,337.5C484.3,337.0 487.2,336.5 487.9,336.8C488.6,337.1 488.1,338.7 487.3,339.3C486.5,339.9 484.2,340.4 483,340.5C481.8,340.6 479.9,340.4 479.9,339.9Z" fill="#f5f6f8" stroke="#4c300c" stroke-width="0.8"/>
<ellipse cx="633.9" cy="125.2" rx="2.1" ry="2.7" transform="rotate(-25 633.9 125.2)" fill="#2e2018"/>
<ellipse cx="627.6" cy="127.6" rx="1.6" ry="1.1" transform="rotate(-20 627.6 127.6)" fill="#2e2018"/>
<ellipse cx="636.4" cy="131.9" rx="2.0" ry="1.3" transform="rotate(0 636.4 131.9)" fill="#2e2018"/>
<ellipse cx="640.1" cy="138.1" rx="2.2" ry="1.7" transform="rotate(0 640.1 138.1)" fill="#2e2018"/>
<ellipse cx="643.6" cy="143.5" rx="2.2" ry="1.7" transform="rotate(0 643.6 143.5)" fill="#2e2018"/>
<ellipse cx="660.2" cy="143" rx="3.6" ry="2.3" transform="rotate(20 660.2 143)" fill="#b8916c" stroke="#2e2018" stroke-width="1.5"/>
<ellipse cx="683.4" cy="157.2" rx="3.0" ry="1.8" transform="rotate(-10 683.4 157.2)" fill="#2e2018"/>
<ellipse cx="693.3" cy="172.8" rx="3.6" ry="1.9" transform="rotate(28 693.3 172.8)" fill="#2e2018"/>
<ellipse cx="693.3" cy="189.7" rx="2.0" ry="1.5" transform="rotate(-20 693.3 189.7)" fill="#2e2018"/>
<ellipse cx="689.9" cy="193.2" rx="2.0" ry="1.7" transform="rotate(0 689.9 193.2)" fill="#2e2018"/>
<ellipse cx="668.1" cy="192.8" rx="1.7" ry="1.2" transform="rotate(0 668.1 192.8)" fill="#2e2018"/>
<ellipse cx="663.4" cy="197.5" rx="1.6" ry="2.5" transform="rotate(20 663.4 197.5)" fill="#b8916c" stroke="#2e2018" stroke-width="1.5"/>
<ellipse cx="652.9" cy="199.6" rx="1.3" ry="2.6" transform="rotate(0 652.9 199.6)" fill="#2e2018"/>
<ellipse cx="617.7" cy="258.3" rx="1.5" ry="1.5" transform="rotate(0 617.7 258.3)" fill="#2e2018"/>
<path d="M661.4,129.1C661.9,128.3 663.4,128.1 664.5,128.5C665.6,128.9 667.2,130.6 668.2,131.6C669.2,132.6 670.1,133.4 670.7,134.7C671.3,136.0 672.0,138.3 671.9,139.6C671.8,140.9 671.0,142.1 670.1,142.3C669.2,142.5 667.5,141.6 666.4,140.8C665.3,140.0 664.1,138.9 663.3,137.7C662.5,136.5 661.7,134.8 661.4,133.4C661.1,132.0 660.9,129.9 661.4,129.1Z" fill="#8a5a3c" stroke="#2e2018" stroke-width="1.6"/>
<line x1="371.2" y1="361" x2="446" y2="346" stroke="#6286ad" stroke-width="1.1"/>
<line x1="405.8" y1="410.9" x2="467" y2="420.5" stroke="#6286ad" stroke-width="1.1"/>
<line x1="506.1" y1="403.9" x2="549.7" y2="454.5" stroke="#6286ad" stroke-width="1.1"/>
<line x1="537.2" y1="412.1" x2="555.9" y2="414.6" stroke="#6286ad" stroke-width="1.1"/>
<line x1="571" y1="302.5" x2="593.4" y2="306.2" stroke="#6286ad" stroke-width="1.1"/>
<line x1="563" y1="349.5" x2="592.1" y2="346.8" stroke="#6286ad" stroke-width="1.1"/>
<circle cx="328.1" cy="220.4" r="4.1" fill="#1d5a8a"/>
<circle cx="516.8" cy="154.1" r="4.1" fill="#1d5a8a"/>
<circle cx="500.3" cy="223.7" r="4.1" fill="#1d5a8a"/>
<circle cx="475" cy="309.2" r="4.1" fill="#1d5a8a"/>
<circle cx="448" cy="345.3" r="4.1" fill="#1d5a8a"/>
<circle cx="568.5" cy="301.9" r="4.1" fill="#1d5a8a"/>
<circle cx="560.7" cy="349.8" r="4.1" fill="#1d5a8a"/>
<circle cx="469.2" cy="420.1" r="4.1" fill="#1d5a8a"/>
<circle cx="506.1" cy="403.9" r="4.1" fill="#1d5a8a"/>
<circle cx="536" cy="411.6" r="4.1" fill="#1d5a8a"/>
<text y="240.8" font-size="10" fill="#262626" stroke="#262626" stroke-width="0.4" stroke-linejoin="round"><tspan x="298.9" textLength="53.4" lengthAdjust="spacingAndGlyphs">MAHAKAM</tspan> <tspan x="356.4" textLength="19.8" lengthAdjust="spacingAndGlyphs">ULU</tspan> <tspan x="380.6" textLength="26.8" lengthAdjust="spacingAndGlyphs">1.601</tspan></text>
<text y="250.6" font-size="7" fill="#262626" stroke="#262626" stroke-width="0.3" stroke-linejoin="round"><tspan x="299.1" textLength="47.6" lengthAdjust="spacingAndGlyphs">SEMBUH 1.571</tspan></text>
<text y="260.1" font-size="7" fill="#262626" stroke="#262626" stroke-width="0.3" stroke-linejoin="round"><tspan x="299.1" textLength="50.5" lengthAdjust="spacingAndGlyphs">MENINGGAL 28</tspan></text>
<text y="142.3" font-size="10" fill="#fbe9b4" stroke="#fbe9b4" stroke-width="0.4" stroke-linejoin="round"><tspan x="526.9" textLength="31.6" lengthAdjust="spacingAndGlyphs">BERAU</tspan> <tspan x="564.7" textLength="32.9" lengthAdjust="spacingAndGlyphs">13.169</tspan></text>
<text y="153.4" font-size="7" fill="#fbe9b4" stroke="#fbe9b4" stroke-width="0.3" stroke-linejoin="round"><tspan x="527.1" textLength="56.7" lengthAdjust="spacingAndGlyphs">SEMBUH 12.722</tspan></text>
<text y="162.9" font-size="7" fill="#fbe9b4" stroke="#fbe9b4" stroke-width="0.3" stroke-linejoin="round"><tspan x="527.1" textLength="58.9" lengthAdjust="spacingAndGlyphs">MENINGGAL 405</tspan></text>
<text y="227" font-size="10" fill="#fbe9b4" stroke="#fbe9b4" stroke-width="0.4" stroke-linejoin="round"><tspan x="507.7" textLength="28.0" lengthAdjust="spacingAndGlyphs">KUTAI</tspan> <tspan x="540.6" textLength="31.2" lengthAdjust="spacingAndGlyphs">TIMUR</tspan> <tspan x="575.5" textLength="31.4" lengthAdjust="spacingAndGlyphs">17.973</tspan></text>
<text y="237.3" font-size="7" fill="#fbe9b4" stroke="#fbe9b4" stroke-width="0.3" stroke-linejoin="round"><tspan x="507.9" textLength="57.3" lengthAdjust="spacingAndGlyphs">SEMBUH 17.505</tspan></text>
<text y="247.1" font-size="7" fill="#fbe9b4" stroke="#fbe9b4" stroke-width="0.3" stroke-linejoin="round"><tspan x="507.9" textLength="59.7" lengthAdjust="spacingAndGlyphs">MENINGGAL 436</tspan></text>
<text y="319.2" font-size="10" fill="#262626" stroke="#262626" stroke-width="0.4" stroke-linejoin="round"><tspan x="484.1" textLength="32.9" lengthAdjust="spacingAndGlyphs">KUKAR</tspan> <tspan x="519.9" textLength="32.1" lengthAdjust="spacingAndGlyphs">26.100</tspan></text>
<text y="327.8" font-size="7" fill="#262626" stroke="#262626" stroke-width="0.3" stroke-linejoin="round"><tspan x="484.3" textLength="57.6" lengthAdjust="spacingAndGlyphs">SEMBUH 25.233</tspan></text>
<text y="338" font-size="7" fill="#262626" stroke="#262626" stroke-width="0.3" stroke-linejoin="round"><tspan x="484.3" textLength="58.9" lengthAdjust="spacingAndGlyphs">MENINGGAL 843</tspan></text>
<text y="352.5" font-size="10" fill="#262626" stroke="#262626" stroke-width="0.4" stroke-linejoin="round"><tspan x="288.5" textLength="28.8" lengthAdjust="spacingAndGlyphs">KUTAI</tspan> <tspan x="320.9" textLength="31.7" lengthAdjust="spacingAndGlyphs">BARAT</tspan> <tspan x="355.5" textLength="32.7" lengthAdjust="spacingAndGlyphs">10.492</tspan></text>
<text y="361.1" font-size="7" fill="#262626" stroke="#262626" stroke-width="0.3" stroke-linejoin="round"><tspan x="288.7" textLength="58.0" lengthAdjust="spacingAndGlyphs">SEMBUH 10.176</tspan></text>
<text y="369.1" font-size="7" fill="#262626" stroke="#262626" stroke-width="0.3" stroke-linejoin="round"><tspan x="288.7" textLength="60.3" lengthAdjust="spacingAndGlyphs">MENINGGAL 270</tspan></text>
<text y="299.9" font-size="10" fill="#262626" stroke="#262626" stroke-width="0.4" stroke-linejoin="round"><tspan x="597.0" textLength="48.5" lengthAdjust="spacingAndGlyphs">BONTANG</tspan> <tspan x="651.3" textLength="33.7" lengthAdjust="spacingAndGlyphs">15.179</tspan></text>
<text y="310.9" font-size="7" fill="#262626" stroke="#262626" stroke-width="0.3" stroke-linejoin="round"><tspan x="597.1" textLength="57.3" lengthAdjust="spacingAndGlyphs">SEMBUH 14.742</tspan></text>
<text y="321.6" font-size="7" fill="#262626" stroke="#262626" stroke-width="0.3" stroke-linejoin="round"><tspan x="597.1" textLength="60.4" lengthAdjust="spacingAndGlyphs">MENINGGAL 360</tspan></text>
<text y="349.1" font-size="10" fill="#262626" stroke="#262626" stroke-width="0.4" stroke-linejoin="round"><tspan x="596.7" textLength="61.0" lengthAdjust="spacingAndGlyphs">SAMARINDA</tspan> <tspan x="662.9" textLength="33.1" lengthAdjust="spacingAndGlyphs">22.238</tspan></text>
<text y="359.5" font-size="7" fill="#262626" stroke="#262626" stroke-width="0.3" stroke-linejoin="round"><tspan x="596.9" textLength="57.2" lengthAdjust="spacingAndGlyphs">SEMBUH 21.484</tspan></text>
<text y="369.4" font-size="7" fill="#262626" stroke="#262626" stroke-width="0.3" stroke-linejoin="round"><tspan x="596.9" textLength="60.7" lengthAdjust="spacingAndGlyphs">MENINGGAL 718</tspan></text>
<text y="406.4" font-size="10" fill="#262626" stroke="#262626" stroke-width="0.4" stroke-linejoin="round"><tspan x="343.9" textLength="30.0" lengthAdjust="spacingAndGlyphs">PASER</tspan> <tspan x="379.2" textLength="27.1" lengthAdjust="spacingAndGlyphs">8.275</tspan></text>
<text y="416.8" font-size="7" fill="#262626" stroke="#262626" stroke-width="0.3" stroke-linejoin="round"><tspan x="344.1" textLength="52.5" lengthAdjust="spacingAndGlyphs">SEMBUH 8.000</tspan></text>
<text y="426.8" font-size="7" fill="#262626" stroke="#262626" stroke-width="0.3" stroke-linejoin="round"><tspan x="344.1" textLength="59.5" lengthAdjust="spacingAndGlyphs">MENINGGAL 268</tspan></text>
<text y="411.6" font-size="10" fill="#262626" stroke="#262626" stroke-width="0.4" stroke-linejoin="round"><tspan x="562.8" textLength="60.2" lengthAdjust="spacingAndGlyphs">BALIKPAPAN</tspan> <tspan x="629.1" textLength="32.9" lengthAdjust="spacingAndGlyphs">38.187</tspan></text>
<text y="422.3" font-size="7" fill="#262626" stroke="#262626" stroke-width="0.3" stroke-linejoin="round"><tspan x="563.0" textLength="31.9" lengthAdjust="spacingAndGlyphs">SEMBUH</tspan> <tspan x="598.1" textLength="24.0" lengthAdjust="spacingAndGlyphs">36.218</tspan></text>
<text y="432.4" font-size="7" fill="#262626" stroke="#262626" stroke-width="0.3" stroke-linejoin="round"><tspan x="563.0" textLength="66.9" lengthAdjust="spacingAndGlyphs">MENINGGAL 1.873</tspan></text>
<text y="463.7" font-size="10" fill="#262626" stroke="#262626" stroke-width="0.4" stroke-linejoin="round"><tspan x="515.4" textLength="46.0" lengthAdjust="spacingAndGlyphs">PENAJAM</tspan> <tspan x="564.5" textLength="30.5" lengthAdjust="spacingAndGlyphs">PASER</tspan> <tspan x="598.1" textLength="33.5" lengthAdjust="spacingAndGlyphs">UTARA</tspan> <tspan x="634.2" textLength="27.0" lengthAdjust="spacingAndGlyphs">4.423</tspan></text>
<text y="472.8" font-size="7" fill="#262626" stroke="#262626" stroke-width="0.3" stroke-linejoin="round"><tspan x="515.6" textLength="53.5" lengthAdjust="spacingAndGlyphs">SEMBUH 4.189</tspan></text>
<text y="482.7" font-size="7" fill="#262626" stroke="#262626" stroke-width="0.3" stroke-linejoin="round"><tspan x="515.6" textLength="60.8" lengthAdjust="spacingAndGlyphs">MENINGGAL 229</tspan></text>
</svg>
</div>
</body>
</html>
